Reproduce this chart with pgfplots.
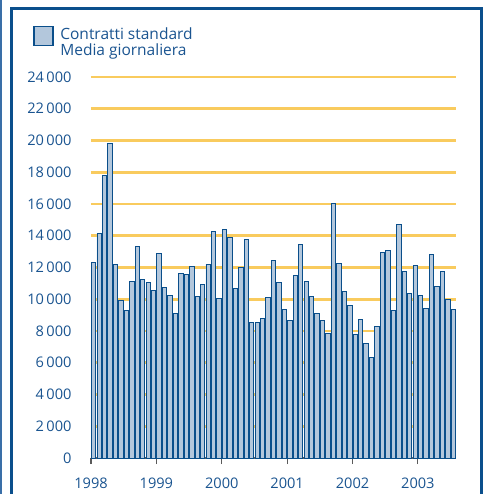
\documentclass[border=0pt]{standalone}
\usepackage{pgfplots}
\pgfplotsset{compat=1.18}
\usepackage{fontspec}
\setmainfont{Open Sans}

\definecolor{barfill}{HTML}{B3C7DC}
\definecolor{barblue}{HTML}{0A4E8A}
\definecolor{textblue}{HTML}{1A5490}
\definecolor{gridyellow}{HTML}{F9CB5E}
\definecolor{axisgray}{HTML}{5A5A5A}
\definecolor{frameblue}{HTML}{0B4F8C}
\definecolor{edgeblue}{HTML}{3A6FA8}

\begin{document}
\begin{tikzpicture}[x=1bp,y=1bp]
\useasboundingbox (-91,-36) rectangle (397,458);
\begin{axis}[
    scale only axis,
    width=365bp, height=381bp,
    xmin=0, xmax=67,
    ymin=0, ymax=24000,
    axis x line*=bottom,
    axis y line*=left,
    y axis line style={draw=none},
    x axis line style={draw=axisgray, line width=1.2bp},
    xtick={0,12,24,36,48,60},
    xticklabels={1998,1999,2000,2001,2002,2003},
    xtick style={draw=axisgray, line width=1.2bp},
    major tick length=6bp,
    tick align=outside,
    ytick={0,2000,...,24000},
    ytick style={draw=none},
    ymajorgrids,
    grid style={draw=gridyellow, line width=2.6bp},
    scaled y ticks=false,
    /pgf/number format/assume math mode=true,
    /pgf/number format/1000 sep={\,},
    ticklabel style={font=\fontsize{14.6bp}{16bp}\selectfont, text=textblue},
    yticklabel style={xshift=-10bp},
    xticklabel style={yshift=-10bp},
    legend style={draw=none, fill=none, inner sep=0pt,
        at={(-0.159,1.135)}, anchor=north west,
        font=\fontsize{15.5bp}{16bp}\selectfont, text=textblue,
        cells={align=left}},
    legend image code/.code={\draw[fill=barfill, draw=barblue, line width=1.5bp] (0bp,-3bp) rectangle (19bp,16bp); \path (24bp,0bp);},
]
\addplot[ybar, bar width=0.8, fill=barfill, draw=barblue, line width=0.9bp] coordinates {
(0.5,12330) (1.5,14150) (2.5,17810) (3.5,19820) (4.5,12200) (5.5,9930)
(6.5,9300) (7.5,11130) (8.5,13340) (9.5,11260) (10.5,11070) (11.5,10560)
(12.5,12890) (13.5,10750) (14.5,10250) (15.5,9110) (16.5,11630) (17.5,11570)
(18.5,12070) (19.5,10190) (20.5,10940) (21.5,12200) (22.5,14280) (23.5,10060)
(24.5,14410) (25.5,13900) (26.5,10690) (27.5,12010) (28.5,13780) (29.5,8550)
(30.5,8550) (31.5,8800) (32.5,10120) (33.5,12450) (34.5,11070) (35.5,9370)
(36.5,8670) (37.5,11510) (38.5,13460) (39.5,11130) (40.5,10190) (41.5,9110)
(42.5,8670) (43.5,7850) (44.5,16040) (45.5,12260) (46.5,10500) (47.5,9620)
(48.5,7790) (49.5,8740) (50.5,7230) (51.5,6340) (52.5,8300) (53.5,12960)
(54.5,13080) (55.5,9300) (56.5,14720) (57.5,11760) (58.5,10370) (59.5,12140)
(60.5,10250) (61.5,9430) (62.5,12830) (63.5,10820) (64.5,11760) (65.5,10000)
(66.5,9370)
};
\addlegendentry{Contratti standard\\Media giornaliera}
\end{axis}
\draw[edgeblue, line width=2.5bp] (-90,-60) -- (-90,470);
\draw[frameblue, line width=3bp] (-79,-60) -- (-79,449) -- (390.5,449) -- (390.5,-60);
\end{tikzpicture}
\end{document}
